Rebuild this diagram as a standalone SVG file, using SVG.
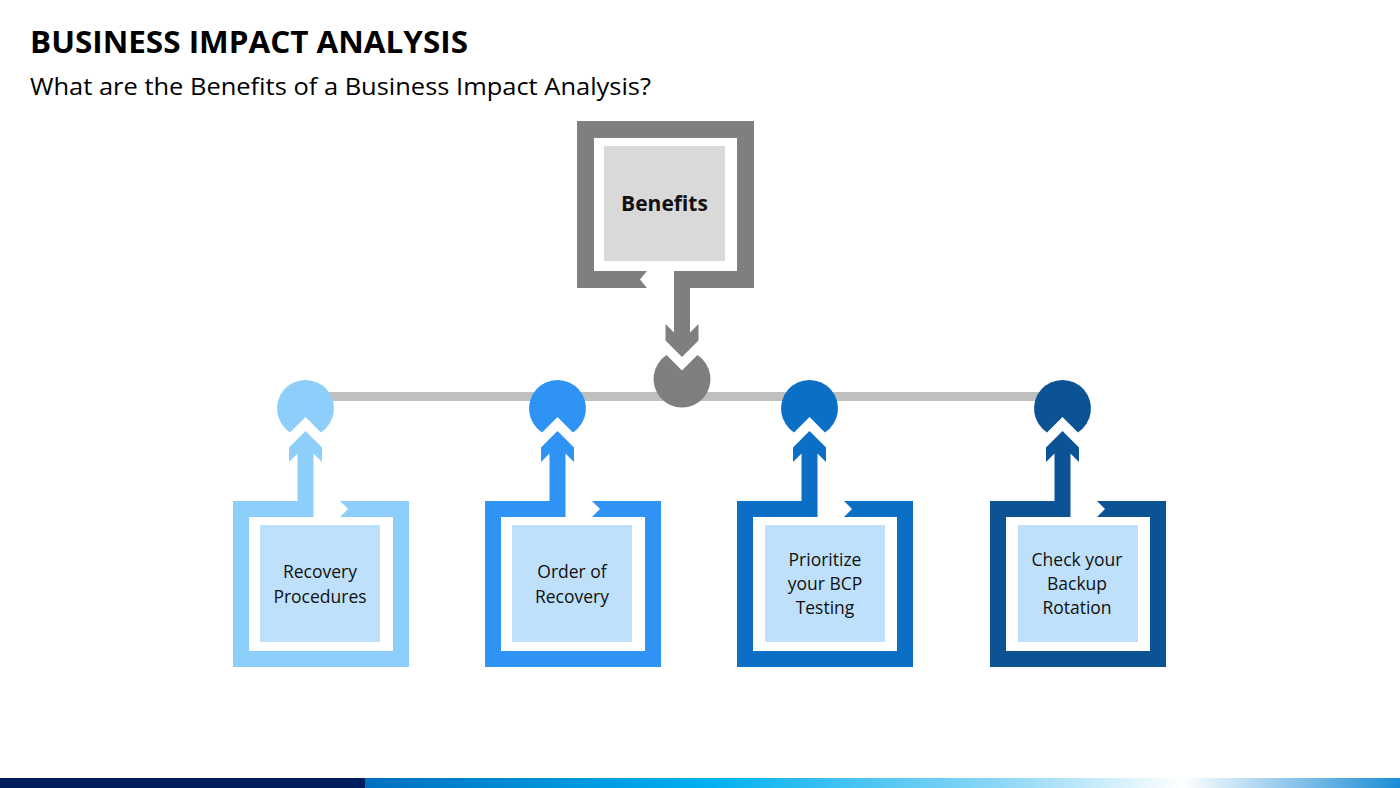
<svg xmlns="http://www.w3.org/2000/svg" width="1400" height="788" viewBox="0 0 1400 788">
<defs>
<linearGradient id="barGrad" x1="365" y1="0" x2="1400" y2="0" gradientUnits="userSpaceOnUse">
<stop offset="0" stop-color="#0070C0"/>
<stop offset="0.33" stop-color="#00B0F0"/>
<stop offset="0.62" stop-color="#8FD8F6"/>
<stop offset="0.79" stop-color="#FFFFFF"/>
<stop offset="1" stop-color="#1A8CD6"/>
</linearGradient>
<style>
.title{font-family:"Open Sans","Liberation Sans",sans-serif;font-weight:700;font-size:31px;fill:#000}
.sub{font-family:"Open Sans","Liberation Sans",sans-serif;font-size:24px;fill:#000}
.lbl{font-family:"Open Sans","Liberation Sans",sans-serif;font-size:17.5px;fill:#111;text-anchor:middle}
.blbl{font-family:"Open Sans","Liberation Sans",sans-serif;font-size:21px;font-weight:700;fill:#111;text-anchor:middle}
.fill{fill:#BEE0FA}
.c1{fill:#8DCFFA}
.c2{fill:#2E93F5}
.c3{fill:#0B6FC5}
.c4{fill:#0B5394}
.gr{fill:#7F7F7F}
</style>
</defs>
<rect width="1400" height="788" fill="#FFFFFF"/>
<text class="title" x="30" y="53" textLength="438" lengthAdjust="spacingAndGlyphs">BUSINESS IMPACT ANALYSIS</text>
<text class="sub" x="30" y="95" textLength="621" lengthAdjust="spacingAndGlyphs">What are the Benefits of a Business Impact Analysis?</text>

<g id="connectors">
<rect x="304" y="392" width="759" height="9" fill="#BFBFBF"/>
</g>

<g id="benefits">
<path class="gr" d="M674,271 L674,332.5 L665.5,324 L665.5,340.5 L682,357 L698.5,340.5 L698.5,324 L690,332.5 L690,288 L754,288 L754,121 L577,121 L577,288 L647,288 L640,279.5 L647,271 L594,271 L594,138 L737,138 L737,271 Z"/>
<rect x="604" y="146" width="121" height="115" fill="#D9D9D9"/>
<text class="blbl" x="664.5" y="211">Benefits</text>
<path class="gr" d="M697.45,355.05 A28.5,28.5 0 1 1 666.55,355.05 L682,370.5 Z"/>
</g>

<g id="node1">
<path class="c1" d="M305.5,408.5 m-15.45,23.95 A28.5,28.5 0 1 1 320.95,432.45 L305.5,417 Z"/>
<path class="c1" d="M313.5,517 L313.5,453.5 L322,462 L322,447.5 L305.5,431 L289,447.5 L289,462 L297.5,453.5 L297.5,501 L233,501 L233,667 L409,667 L409,501 L340,501 L348,509 L340,517 L393,517 L393,651 L249,651 L249,517 Z"/>
<rect class="fill" x="260" y="525" width="120" height="117"/>
<text class="lbl" x="320" y="578">Recovery</text>
<text class="lbl" x="320" y="603">Procedures</text>
</g>

<g id="node2">
<path class="c2" d="M557.5,408.5 m-15.45,23.95 A28.5,28.5 0 1 1 572.95,432.45 L557.5,417 Z"/>
<path class="c2" d="M565.5,517 L565.5,453.5 L574,462 L574,447.5 L557.5,431 L541,447.5 L541,462 L549.5,453.5 L549.5,501 L485,501 L485,667 L661,667 L661,501 L592,501 L600,509 L592,517 L645,517 L645,651 L501,651 L501,517 Z"/>
<rect class="fill" x="512" y="525" width="120" height="117"/>
<text class="lbl" x="572" y="578">Order of</text>
<text class="lbl" x="572" y="603">Recovery</text>
</g>

<g id="node3">
<path class="c3" d="M809.5,408.5 m-15.45,23.95 A28.5,28.5 0 1 1 824.95,432.45 L809.5,417 Z"/>
<path class="c3" d="M817.5,517 L817.5,453.5 L826,462 L826,447.5 L809.5,431 L793,447.5 L793,462 L801.5,453.5 L801.5,501 L737,501 L737,667 L913,667 L913,501 L844,501 L852,509 L844,517 L897,517 L897,651 L753,651 L753,517 Z"/>
<rect class="fill" x="765" y="525" width="120" height="117"/>
<text class="lbl" x="825" y="566">Prioritize</text>
<text class="lbl" x="825" y="590">your BCP</text>
<text class="lbl" x="825" y="614">Testing</text>
</g>

<g id="node4">
<path class="c4" d="M1062.5,408.5 m-15.45,23.95 A28.5,28.5 0 1 1 1077.95,432.45 L1062.5,417 Z"/>
<path class="c4" d="M1070.5,517 L1070.5,453.5 L1079,462 L1079,447.5 L1062.5,431 L1046,447.5 L1046,462 L1054.5,453.5 L1054.5,501 L990,501 L990,667 L1166,667 L1166,501 L1097,501 L1105,509 L1097,517 L1150,517 L1150,651 L1006,651 L1006,517 Z"/>
<rect class="fill" x="1018" y="525" width="120" height="117"/>
<text class="lbl" x="1077" y="566">Check your</text>
<text class="lbl" x="1077" y="590">Backup</text>
<text class="lbl" x="1077" y="614">Rotation</text>
</g>

<rect x="0" y="778" width="365" height="10" fill="#001E5E"/>
<rect x="365" y="778" width="1035" height="10" fill="url(#barGrad)"/>
</svg>
